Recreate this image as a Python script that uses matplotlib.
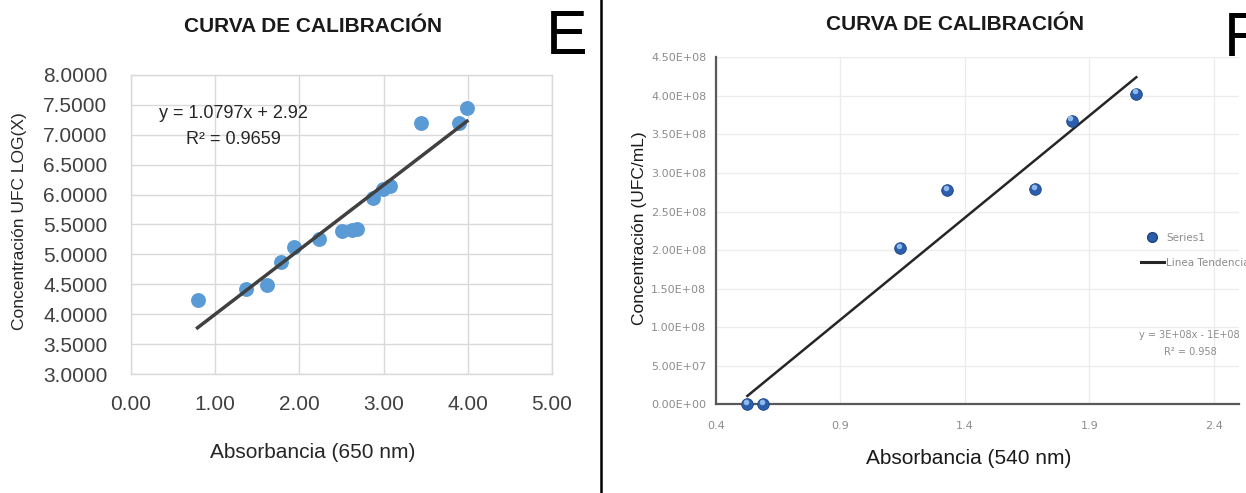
import matplotlib
matplotlib.use('Agg')
import matplotlib.pyplot as plt
import matplotlib.transforms as mtransforms
from matplotlib.lines import Line2D
import numpy as np

plt.rcParams['font.family'] = ['Liberation Sans', 'DejaVu Sans']

# panel E: absorbance 650 nm vs log UFC
abs_650 = [0.79, 1.36, 1.61, 1.78, 1.94, 2.23, 2.50, 2.62, 2.68, 2.87, 2.99, 3.08, 3.44, 3.89, 3.99]
log_ufc = [4.23, 4.42, 4.48, 4.87, 5.13, 5.26, 5.39, 5.41, 5.43, 5.95, 6.10, 6.14, 7.19, 7.19, 7.45]
slope_e = 1.0797
intercept_e = 2.92
r2_e = 0.9659

# panel F: absorbance 540 nm vs UFC/mL
abs_540 = [0.526, 0.589, 1.139, 1.329, 1.683, 1.830, 2.089]
ufc_ml = [0.0, 0.0, 2.03e8, 2.78e8, 2.79e8, 3.68e8, 4.03e8]

e_yticks = [3.0, 3.5, 4.0, 4.5, 5.0, 5.5, 6.0, 6.5, 7.0, 7.5, 8.0]
e_xticks = [0, 1, 2, 3, 4, 5]
f_yticks = [0, 0.5e8, 1e8, 1.5e8, 2e8, 2.5e8, 3e8, 3.5e8, 4e8, 4.5e8]
f_xticks = [0.4, 0.9, 1.4, 1.9, 2.4]

W, H = 1246, 493
fig = plt.figure(figsize=(W / 100, H / 100), dpi=100)


def fx(px):
    return px / W


def fy(py):
    return 1 - py / H


def ax_rect(l, t, r, b):
    return [fx(l), fy(b), fx(r) - fx(l), fy(t) - fy(b)]


# ---------- panel E ----------
ax1 = fig.add_axes(ax_rect(131, 75, 552, 374))
ax1.set_xlim(0, 5)
ax1.set_ylim(3, 8)
ax1.set_xticks(e_xticks)
ax1.set_yticks(e_yticks)
ax1.set_xticklabels(['%.2f' % v for v in e_xticks])
ax1.set_yticklabels(['%.4f' % v for v in e_yticks])
ax1.grid(True, color='#d9d9d9', linewidth=1)
ax1.set_axisbelow(True)
for s in ax1.spines.values():
    s.set_color('#d9d9d9')
    s.set_linewidth(1)
ax1.tick_params(axis='both', length=0, labelsize=15, colors='#404040')
ax1.tick_params(axis='y', pad=17)
ax1.tick_params(axis='x', pad=15)

ax1.scatter(abs_650, log_ufc, s=115, color='#5b9bd5', zorder=3, linewidths=0)
xe = np.array([min(abs_650), max(abs_650)])
ax1.plot(xe, slope_e * xe + intercept_e, color='#404040', linewidth=2.5, zorder=4)

ax1.text(fx(233), fy(114), 'y = %.4fx + %.2f' % (slope_e, intercept_e), transform=fig.transFigure,
         ha='center', va='center', fontsize=13, color='#262626')
ax1.text(fx(233), fy(139), 'R² = %.4f' % r2_e, transform=fig.transFigure,
         ha='center', va='center', fontsize=13, color='#262626')

fig.text(fx(313), fy(27), 'CURVA DE CALIBRACIÓN', ha='center', va='center',
         fontsize=15, fontweight='bold', color='#1a1a1a')
fig.text(fx(567), fy(38), 'E', ha='center', va='center', fontsize=45, color='black')
fig.text(fx(313), fy(452), 'Absorbancia (650 nm)', ha='center', va='center',
         fontsize=15, color='#262626')
fig.text(fx(20), fy(221), 'Concentración UFC LOG(X)', ha='center', va='center',
         rotation=90, fontsize=12.5, color='#262626')

# divider
fig.add_artist(Line2D([fx(601), fx(601)], [fy(0), fy(492)], color='black', linewidth=1.8))

# ---------- panel F ----------
ax2 = fig.add_axes(ax_rect(716, 57.3, 1238.6, 404.3))
ax2.set_xlim(0.4, 2.5)
ax2.set_ylim(0, 4.5e8)
ax2.set_xticks(f_xticks)
ax2.set_yticks(f_yticks)
ax2.set_xticklabels(['%g' % v for v in f_xticks], family='DejaVu Sans')
ax2.set_yticklabels(['%.2E' % v for v in f_yticks], family='DejaVu Sans')
ax2.grid(True, color='#ececec', linewidth=1)
ax2.set_axisbelow(True)
ax2.spines['top'].set_visible(False)
ax2.spines['right'].set_visible(False)
ax2.spines['left'].set_color('#595959')
ax2.spines['bottom'].set_color('#595959')
ax2.spines['left'].set_linewidth(1.6)
ax2.spines['bottom'].set_linewidth(1.6)
ax2.tick_params(axis='both', length=0, labelsize=8, colors='#8c8c8c')
ax2.tick_params(axis='y', pad=7)
ax2.tick_params(axis='x', pad=12)

coef = np.polyfit(abs_540, ufc_ml, 1)
xf = np.array([min(abs_540), max(abs_540)])
ax2.plot(xf, np.polyval(coef, xf), color='#262626', linewidth=1.8, zorder=3)
ax2.scatter(abs_540, ufc_ml, s=70, color='#2b5fad', zorder=4, linewidths=0.6, edgecolors='#1d437d',
            clip_on=False)
hl = mtransforms.offset_copy(ax2.transData, fig=fig, x=-1.0, y=1.5, units='points')
ax2.scatter(abs_540, ufc_ml, s=16, color='#8fb9ec', zorder=5, linewidths=0, transform=hl, clip_on=False)

leg = ax2.legend(handles=[
    Line2D([], [], marker='o', linestyle='none', markersize=7, markerfacecolor='#2b5fad',
           markeredgecolor='#1d437d', label='Series1'),
    Line2D([], [], color='#262626', linewidth=2.2, label='Linea Tendencia')],
    loc='upper left', bbox_to_anchor=(fx(1141), fy(233)), bbox_transform=fig.transFigure,
    frameon=False, fontsize=7.5, handlelength=2.2, handletextpad=0.2, labelspacing=1.4,
    borderaxespad=0, borderpad=0)
for t in leg.get_texts():
    t.set_color('#8c8c8c')
    t.set_family('DejaVu Sans')

fig.text(fx(1189), fy(335), 'y = 3E+08x - 1E+08', ha='center', va='center', fontsize=7,
         color='#8c8c8c', family='DejaVu Sans')
fig.text(fx(1190), fy(352), 'R² = 0.958', ha='center', va='center', fontsize=7,
         color='#8c8c8c', family='DejaVu Sans')

fig.text(fx(955), fy(25), 'CURVA DE CALIBRACIÓN', ha='center', va='center',
         fontsize=15, fontweight='bold', color='#1a1a1a')
fig.text(fx(1224), fy(40), 'F', ha='left', va='center', fontsize=45, color='black')
fig.text(fx(969), fy(458), 'Absorbancia (540 nm)', ha='center', va='center',
         fontsize=15, color='#1a1a1a')
fig.text(fx(640), fy(228), 'Concentración (UFC/mL)', ha='center', va='center',
         rotation=90, fontsize=12.5, color='#1a1a1a')

fig.savefig('out.png', dpi=100)
